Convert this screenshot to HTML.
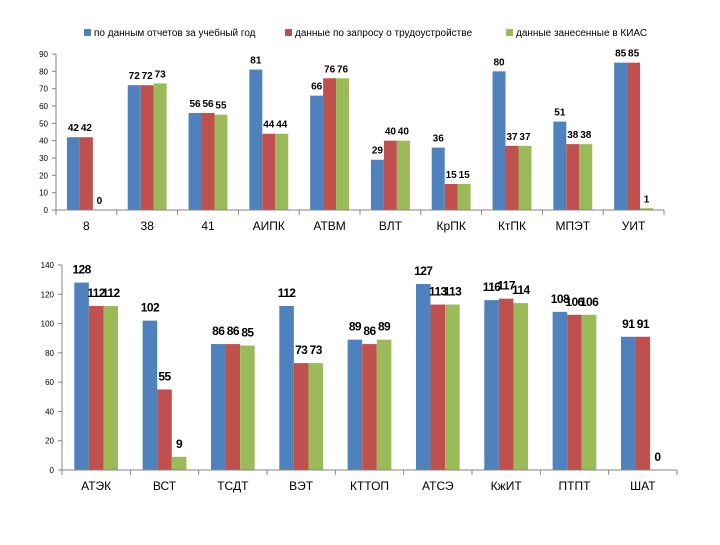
<!DOCTYPE html>
<html><head><meta charset="utf-8"><style>
body{margin:0;background:#fff;width:720px;height:540px;overflow:hidden}
text{font-family:"Liberation Sans",sans-serif}
</style></head><body>
<svg id="c" width="720" height="540" xmlns="http://www.w3.org/2000/svg">
<g>
<rect x="84" y="29" width="7" height="7" fill="#4F81BD"/><text x="94" y="36" font-size="10" fill="#000">по данным отчетов за учебный год</text>
<rect x="285" y="29" width="7" height="7" fill="#C0504D"/><text x="295" y="36" font-size="10" fill="#000">данные по запросу о трудоустройстве</text>
<rect x="506" y="29" width="7" height="7" fill="#9BBB59"/><text x="516" y="36" font-size="10" fill="#000">данные занесенные в КИАС</text>
</g>
</svg>
<script>
const cats1=["8","38","41","АИПК","АТВМ","ВЛТ","КрПК","КтПК","МПЭТ","УИТ"];
const s1a=[42,72,56,81,66,29,36,80,51,85];
const s1b=[42,72,56,44,76,40,15,37,38,85];
const s1c=[0,73,55,44,76,40,15,37,38,1];
const ticks1=[0,10,20,30,40,50,60,70,80,90];
const cats2=["АТЭК","ВСТ","ТСДТ","ВЭТ","КТТОП","АТСЭ","КжИТ","ПТПТ","ШАТ"];
const s2a=[128,102,86,112,89,127,116,108,91];
const s2b=[112,55,86,73,86,113,117,106,91];
const s2c=[112,9,85,73,89,113,114,106,0];
const ticks2=[0,20,40,60,80,100,120,140];
const svg=document.getElementById('c');
const NS="http://www.w3.org/2000/svg";
const colors=["#4F81BD","#C0504D","#9BBB59"];
function mk(t,a,p){const e=document.createElementNS(NS,t);for(const k in a)e.setAttribute(k,a[k]);(p||svg).appendChild(e);return e;}
function chart(cfg){
  const {cats,series,ticks,x0,x1,y0,y1,max,lblSize,catSize,tickSize,pref,ls,off}=cfg;
  const g=mk('g',{});
  
  
  const yS=v=>y0-(v/max)*(y0-y1);
  const cw=(x1-x0)/cats.length;
  const gap=cw*0.18, bw=(cw-2*gap)/3;
  ticks.forEach(t=>{
    const y=yS(t);
    mk('line',{x1:x0-4,x2:x0,y1:y,y2:y,stroke:'#868686'},g);
    const tx=mk('text',{x:x0-8,y:y+3,'font-size':tickSize,'text-anchor':'end',fill:'#000'},g);
    tx.textContent=t;
    
    
  });
  cats.forEach((c,i)=>{
    const cx=x0+i*cw;
    series.forEach((s,j)=>{
      const v=s[i];const x=cx+gap+j*bw;const y=yS(v);
      const r=mk('rect',{x:x,y:y,width:bw,height:y0-y,fill:colors[j]},g);
      
      
      const t=mk('text',{x:x+bw/2,y:y-off,'font-size':lblSize,'font-weight':'bold','text-anchor':'middle','letter-spacing':ls,fill:'#000'},g);
      t.textContent=v;
      
      
    });
    const l=mk('text',{x:cx+cw/2,y:y0+20,'font-size':catSize,'text-anchor':'middle',fill:'#000'},g);
    l.textContent=c;
    
    
    mk('line',{x1:cx,x2:cx,y1:y0,y2:y0+5,stroke:'#868686'},g);
  });
  mk('line',{x1:x1,x2:x1,y1:y0,y2:y0+5,stroke:'#868686'},g);
  mk('line',{x1:x0,x2:x0,y1:y1,y2:y0,stroke:'#868686'},g);
  mk('line',{x1:x0,x2:x1,y1:y0,y2:y0,stroke:'#868686'},g);
}
chart({cats:cats1,series:[s1a,s1b,s1c],ticks:ticks1,x0:56,x1:664,y0:210,y1:54,max:90,lblSize:10,catSize:12,tickSize:8,pref:'top',ls:0,off:6});
chart({cats:cats2,series:[s2a,s2b,s2c],ticks:ticks2,x0:62,x1:677,y0:470,y1:265,max:140,lblSize:12,catSize:12,tickSize:8,pref:'bottom',ls:-0.6,off:9});
</script>
</body></html>
